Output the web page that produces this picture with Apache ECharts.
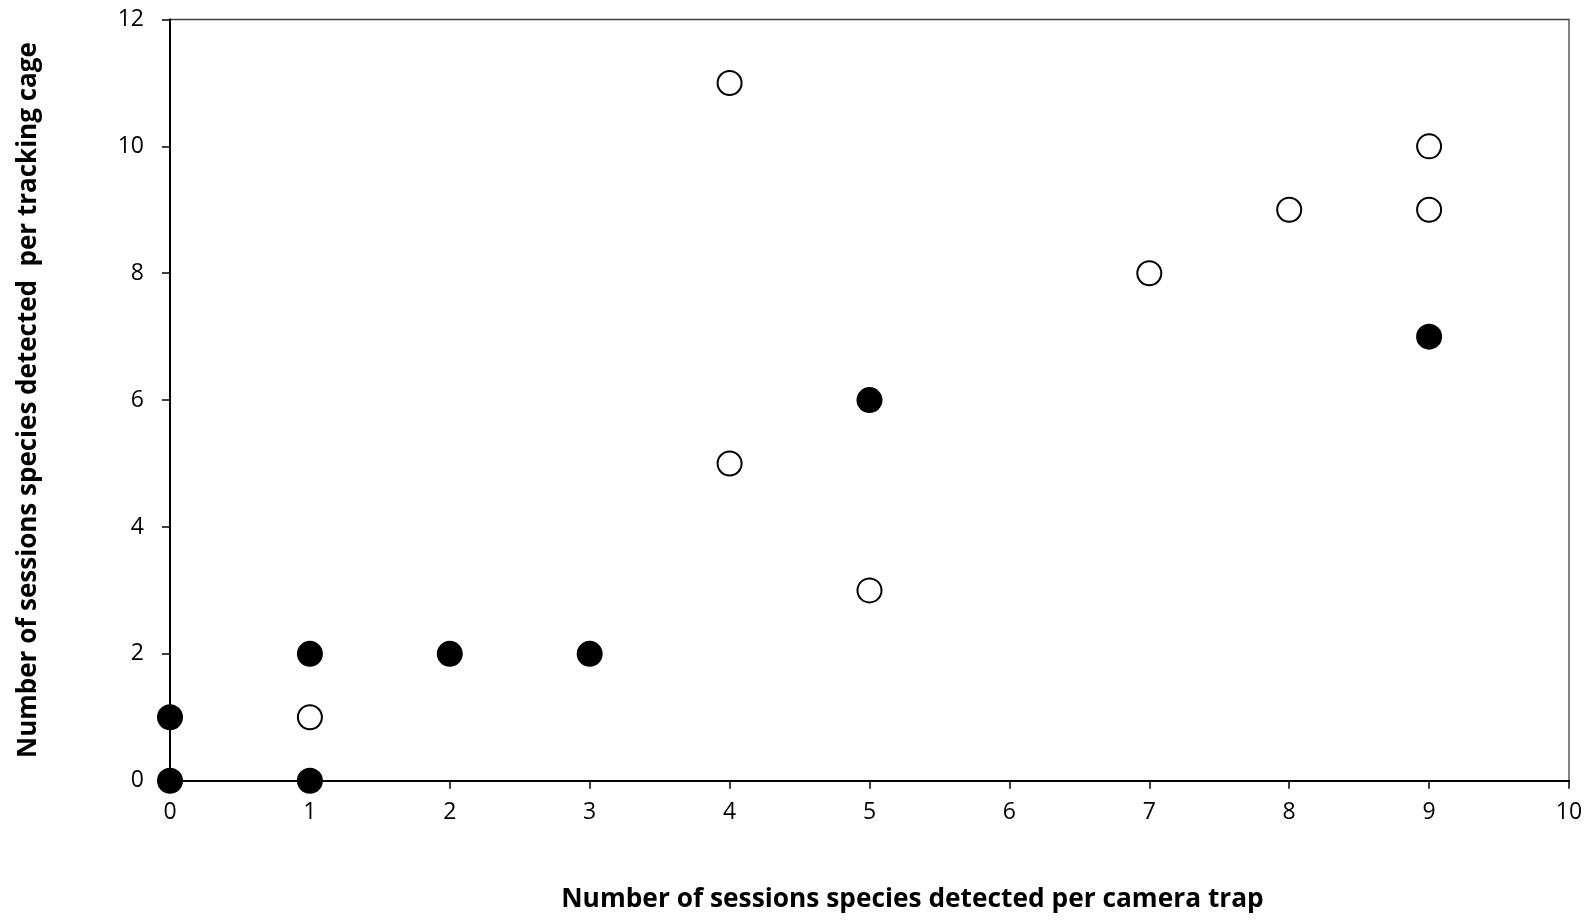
<!DOCTYPE html>
<html>
<head>
<meta charset="utf-8">
<script src="https://cdn.jsdelivr.net/npm/echarts@6/dist/echarts.min.js"></script>
<style>
    html, body { margin: 0; padding: 0; background: #fff; }
    #chart { width: 1594px; height: 920px; }
</style>
</head>
<body>
<div id="chart"></div>
<script>
// filled markers
var filledX = [0, 0, 1, 1, 2, 3, 5, 9]
var filledY = [1, 0, 2, 0, 2, 2, 6, 7]
// open markers
var openX = [4, 9, 8, 9, 7, 4, 5, 1]
var openY = [11, 10, 9, 9, 8, 5, 3, 1]

var xTicks = [0, 1, 2, 3, 4, 5, 6, 7, 8, 9, 10]
var yTicks = [0, 2, 4, 6, 8, 10, 12]

function pairs(xs, ys) {
    return xs.map(function (x, i) { return [x, ys[i]] })
}

var font = '"Open Sans", "DejaVu Sans", sans-serif'

var chart = echarts.init(document.getElementById('chart'))
chart.setOption({
    animation: false,
    backgroundColor: '#fff',
    grid: {
        left: 170, right: 25, top: 19.5, bottom: 139.3,
        show: true, borderColor: '#404040', borderWidth: 1.3
    },
    xAxis: {
        type: 'value',
        min: xTicks[0], max: xTicks[xTicks.length - 1], interval: 1,
        name: 'Number of sessions species detected per camera trap',
        nameLocation: 'middle',
        nameGap: 106,
        nameTextStyle: { fontFamily: font, fontWeight: 'bold', fontSize: 26.3, color: '#000', padding: [0, 0, 0, 86] },
        axisLine: { show: true, lineStyle: { color: '#000', width: 2 } },
        axisTick: { show: true, inside: false, length: 8, lineStyle: { color: '#000', width: 1.5 } },
        axisLabel: { fontFamily: font, fontSize: 23, color: '#000', margin: 20 },
        splitLine: { show: false }
    },
    yAxis: {
        type: 'value',
        min: yTicks[0], max: yTicks[yTicks.length - 1], interval: 2,
        name: 'Number of sessions species detected  per tracking cage',
        nameLocation: 'middle',
        nameGap: 128,
        nameRotate: 90,
        nameTextStyle: { fontFamily: font, fontWeight: 'bold', fontSize: 26, color: '#000' },
        axisLine: { show: true, lineStyle: { color: '#000', width: 2 } },
        axisTick: { show: true, inside: false, length: 8, lineStyle: { color: '#000', width: 1.5 } },
        axisLabel: { fontFamily: font, fontSize: 23, color: '#000', margin: 26 },
        splitLine: { show: false }
    },
    series: [{
        type: 'scatter',
        symbol: 'circle',
        symbolSize: 24,
        itemStyle: { color: '#fff', borderColor: '#000', borderWidth: 2, opacity: 1 },
        data: pairs(openX, openY),
        z: 3
    }, {
        type: 'scatter',
        symbol: 'circle',
        symbolSize: 26,
        itemStyle: { color: '#000', opacity: 1 },
        data: pairs(filledX, filledY),
        z: 4
    }]
})
</script>
</body>
</html>
